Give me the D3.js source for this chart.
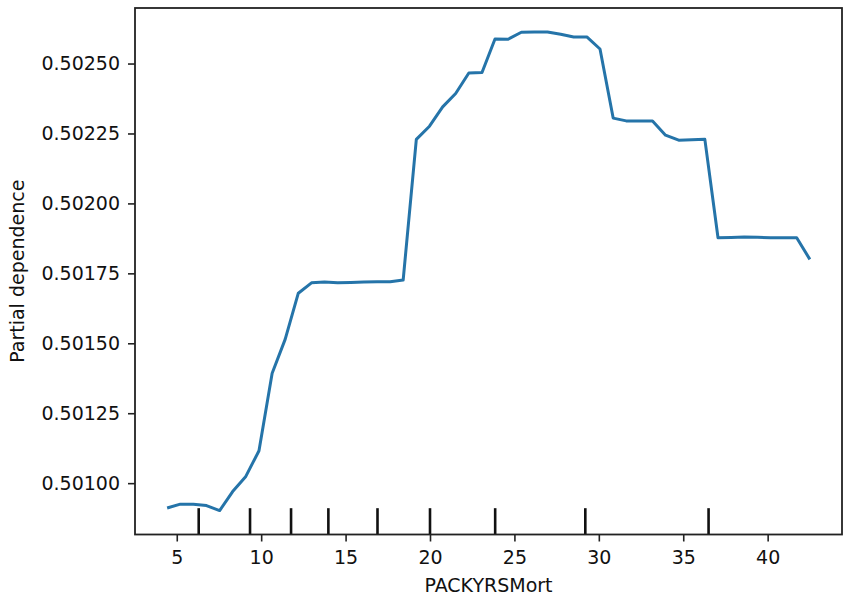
<!DOCTYPE html>
<html>
<head>
<meta charset="utf-8">
<script src="https://cdn.jsdelivr.net/npm/d3@7"></script>
<style>
  html, body { margin: 0; padding: 0; background: #fff; }
  svg { display: block; }
  text { font-family: "DejaVu Sans", sans-serif; fill: #111; }
</style>
</head>
<body>
<svg id="chart" width="851" height="602"></svg>
<script>
// Grid values of PACKYRSMort
const gridX = [4.43, 5.21, 5.98, 6.76, 7.54, 8.31, 9.09, 9.87, 10.65, 11.42,
  12.20, 12.98, 13.75, 14.53, 15.31, 16.08, 16.86, 17.64, 18.41, 19.19,
  19.97, 20.75, 21.52, 22.30, 23.08, 23.85, 24.63, 25.41, 26.18, 26.96,
  27.74, 28.51, 29.29, 30.07, 30.85, 31.62, 32.40, 33.18, 33.95, 34.73,
  35.51, 36.28, 37.06, 37.84, 38.61, 39.39, 40.17, 40.95, 41.72, 42.50];
// Partial dependence values
const pdValues = [0.500911, 0.500925, 0.500925, 0.500920, 0.500902, 0.500970, 0.501024, 0.501116, 0.501393, 0.501514,
  0.501679, 0.501716, 0.501719, 0.501716, 0.501717, 0.501719, 0.501720, 0.501720, 0.501726, 0.502229,
  0.502276, 0.502345, 0.502393, 0.502466, 0.502468, 0.502588, 0.502587, 0.502612, 0.502613, 0.502613,
  0.502605, 0.502595, 0.502595, 0.502552, 0.502305, 0.502295, 0.502295, 0.502295, 0.502244, 0.502226,
  0.502228, 0.502229, 0.501877, 0.501878, 0.501880, 0.501879, 0.501877, 0.501877, 0.501877, 0.501800];
// Deciles (rug marks)
const deciles = [6.30, 9.34, 11.77, 13.98, 16.89, 20.00, 23.86, 29.20, 36.50];
// Tick values
const xTicks = [5, 10, 15, 20, 25, 30, 35, 40];
const yTicks = [0.50100, 0.50125, 0.50150, 0.50175, 0.50200, 0.50225, 0.50250];
const xLabel = "PACKYRSMort";
const yLabel = "Partial dependence";

(function () {
const svg = d3.select("#chart");
const mLeft = 135, mRight = 842, mTop = 8, mBottom = 534.5;

const xMin = d3.min(gridX), xMax = d3.max(gridX);
const yMin = d3.min(pdValues), yMax = d3.max(pdValues);
const xPad = (xMax - xMin) * 0.05, yPad = (yMax - yMin) * 0.05;

const x = d3.scaleLinear().domain([xMin - xPad, xMax + xPad]).range([mLeft, mRight]);
const y = d3.scaleLinear().domain([yMin - yPad, yMax + yPad]).range([mBottom, mTop]);

svg.append("rect").attr("width", 851).attr("height", 602).attr("fill", "#fff");

// rug deciles
const rugH = (mBottom - mTop) * 0.05;
svg.append("g").selectAll("line").data(deciles).join("line")
  .attr("x1", d => x(d)).attr("x2", d => x(d))
  .attr("y1", mBottom).attr("y2", mBottom - rugH)
  .attr("stroke", "#111").attr("stroke-width", 2.6);

// line
const line = d3.line().x((d, i) => x(gridX[i])).y(d => y(d));
svg.append("path").datum(pdValues)
  .attr("d", line)
  .attr("fill", "none")
  .attr("stroke", "#2574a9")
  .attr("stroke-width", 3)
  .attr("stroke-linejoin", "round");

// axes
const xAxis = d3.axisBottom(x).tickValues(xTicks).tickFormat(d3.format("d")).tickSize(7).tickPadding(9);
const gx = svg.append("g").attr("transform", `translate(0,${mBottom})`).call(xAxis);
const yAxis = d3.axisLeft(y).tickValues(yTicks).tickFormat(d3.format(".5f")).tickSize(7).tickPadding(8);
const gy = svg.append("g").attr("transform", `translate(${mLeft},0)`).call(yAxis);
[gx, gy].forEach(g => {
  g.select(".domain").remove();
  g.selectAll(".tick line").attr("stroke", "#222").attr("stroke-width", 1.6);
  g.selectAll(".tick text").attr("font-size", 19).attr("font-family", "DejaVu Sans, sans-serif").attr("fill", "#111");
});

// frame
svg.append("rect")
  .attr("x", mLeft).attr("y", mTop)
  .attr("width", mRight - mLeft).attr("height", mBottom - mTop)
  .attr("fill", "none").attr("stroke", "#222").attr("stroke-width", 1.8);

// labels
svg.append("text").attr("x", (mLeft + mRight) / 2).attr("y", 592)
  .attr("text-anchor", "middle").attr("font-size", 19).text(xLabel);
svg.append("text")
  .attr("transform", `translate(24,${(mTop + mBottom) / 2}) rotate(-90)`)
  .attr("text-anchor", "middle").attr("font-size", 19).text(yLabel);
})();
</script>
</body>
</html>
